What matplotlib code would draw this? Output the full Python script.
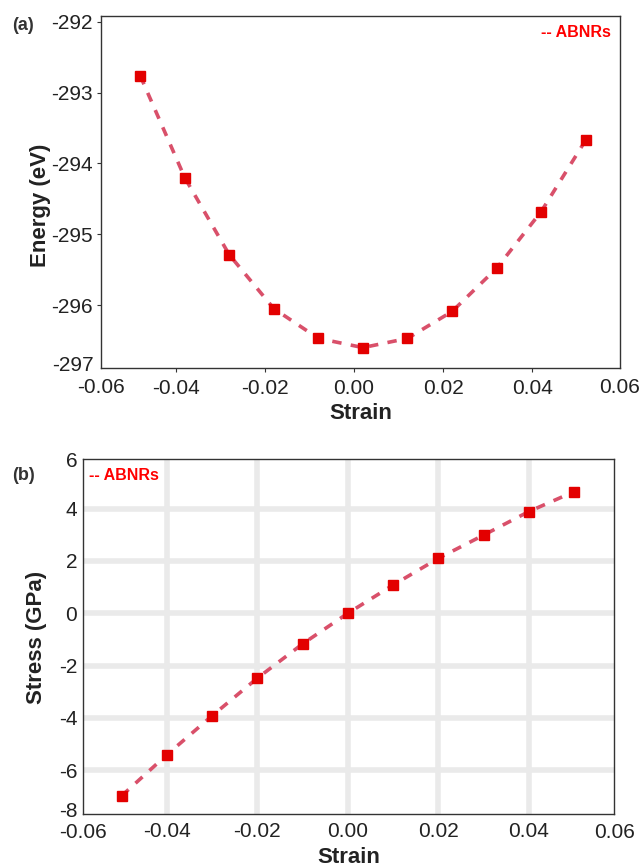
import matplotlib
matplotlib.use("Agg")
import matplotlib.pyplot as plt

plt.rcParams['font.family'] = ['Liberation Sans', 'DejaVu Sans']

# panel (a): energy vs strain
strain_a = [-0.048, -0.038, -0.028, -0.018, -0.008, 0.002, 0.012, 0.022, 0.032, 0.042, 0.052]
energy = [-292.76, -294.20, -295.29, -296.05, -296.47, -296.60,
          -296.47, -296.09, -295.48, -294.68, -293.67]

# panel (b): stress vs strain
strain_b = [-0.05, -0.04, -0.03, -0.02, -0.01, 0.0, 0.01, 0.02, 0.03, 0.04, 0.05]
stress = [-6.98, -5.41, -3.92, -2.48, -1.17, 0.0, 1.08, 2.10, 2.99, 3.89, 4.65]

xticks = [-0.04, -0.02, 0.00, 0.02, 0.04]
xticklabels = ['-0.04', '-0.02', '0.00', '0.02', '0.04']
yticks_a = [-296, -295, -294, -293, -292]
yticks_b = [-6, -4, -2, 0, 2, 4]

TXT = '#222222'
FS = 15

fig = plt.figure(figsize=(6.39, 8.68), dpi=100)
ax1 = fig.add_axes([101/639, 1-367.7/868, 519/639, 351.7/868])
ax2 = fig.add_axes([82.7/639, 1-814/868, 531.6/639, 354.7/868])

line_kw = dict(color='#d9506a', linestyle=(0, (2.6, 2.6)), linewidth=2.6,
               marker='s', markersize=6.5, markerfacecolor='#e30000',
               markeredgecolor='#e30000', zorder=3)

# ---- (a)
ax1.plot(strain_a, energy, **line_kw)
ax1.set_xlim(-0.0568, 0.0597)
ax1.set_ylim(-296.884, -291.917)
ax1.set_yticks(yticks_a)
ax1.set_yticklabels([str(v) for v in yticks_a])
ax1.set_xticks(xticks)
ax1.set_xticklabels(xticklabels)
ax1.tick_params(axis='x', pad=5)
ax1.tick_params(axis='y', pad=3)
# end labels sit on the spines in the original
ax1.text(0, -0.0282, '-0.06', transform=ax1.transAxes, ha='center', va='top',
         fontsize=FS, color=TXT)
ax1.text(1, -0.0282, '0.06', transform=ax1.transAxes, ha='center', va='top',
         fontsize=FS, color=TXT)
ax1.text(-0.0135, 0.013, '-297', transform=ax1.transAxes, ha='right',
         va='center_baseline', fontsize=FS, color=TXT)
ax1.set_xlabel('Strain', fontsize=16, fontweight='bold', color=TXT)
ax1.xaxis.label.set_va('center')
ax1.xaxis.set_label_coords(0.5, -0.129)
ax1.set_ylabel('Energy (eV)', fontsize=16, fontweight='bold', color=TXT)
ax1.yaxis.label.set_va('center')
ax1.yaxis.set_label_coords(-0.1175, 0.461)
ax1.text(0.983, 0.952, '-- ABNRs', transform=ax1.transAxes, color='#ff0000',
         fontsize=11.5, fontweight='bold', ha='right', va='center')
fig.text(12/639, 1-25/868, '(a)', fontsize=13, fontweight='bold', va='center',
         color='#333333')

# ---- (b)
ax2.plot(strain_b, stress, **line_kw)
ax2.set_xlim(-0.0586, 0.0589)
ax2.set_ylim(-7.675, 5.889)
ax2.set_yticks(yticks_b)
ax2.set_yticklabels([str(v) for v in yticks_b])
ax2.set_xticks(xticks)
ax2.set_xticklabels(xticklabels)
ax2.grid(True, color='#eaeaea', linewidth=4, zorder=0)
ax2.set_axisbelow(True)
ax2.tick_params(axis='x', pad=6)
ax2.tick_params(axis='y', pad=4)
ax2.text(0, -0.0245, '-0.06', transform=ax2.transAxes, ha='center', va='top',
         fontsize=FS, color=TXT)
ax2.text(1, -0.0245, '0.06', transform=ax2.transAxes, ha='center', va='top',
         fontsize=FS, color=TXT)
ax2.text(-0.009, 1.0, '6', transform=ax2.transAxes, ha='right',
         va='center_baseline', fontsize=FS, color=TXT)
ax2.text(-0.009, 0.012, '-8', transform=ax2.transAxes, ha='right',
         va='center_baseline', fontsize=FS, color=TXT)
ax2.set_xlabel('Strain', fontsize=16, fontweight='bold', color=TXT)
ax2.xaxis.label.set_va('center')
ax2.xaxis.set_label_coords(0.5, -0.124)
ax2.set_ylabel('Stress (GPa)', fontsize=16, fontweight='bold', color=TXT)
ax2.yaxis.label.set_va('center')
ax2.yaxis.set_label_coords(-0.086, 0.498)
ax2.text(0.012, 0.953, '-- ABNRs', transform=ax2.transAxes, color='#ff0000',
         fontsize=11.5, fontweight='bold', ha='left', va='center')
fig.text(12/639, 1-475/868, '(b)', fontsize=13, fontweight='bold', va='center',
         color='#333333')

for ax, tl in ((ax1, 3), (ax2, 0)):
    ax.tick_params(axis='both', labelsize=FS, labelcolor=TXT, direction='out',
                   length=tl, width=0.8, color='#333333')
    for s in ax.spines.values():
        s.set_color('#333333')
        s.set_linewidth(1.0)

fig.savefig('out.png', dpi=100)
